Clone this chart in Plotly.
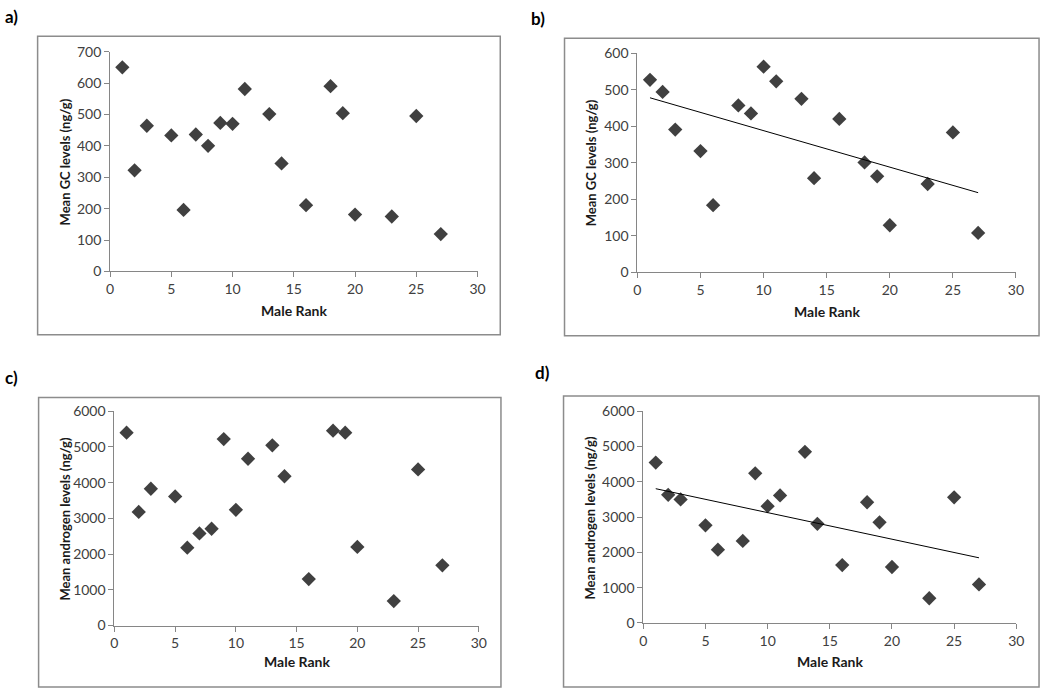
import numpy as np
import plotly.graph_objects as go

W, H = 1050, 696

# ---- data ----
rank_a = [1, 2, 3, 5, 6, 7, 8, 9, 10, 11, 13, 14, 16, 18, 19, 20, 23, 25, 27]
gc_a = [650, 322, 464, 433, 196, 436, 400, 473, 470, 581, 501, 344, 211, 590, 504, 181, 175, 495, 119]

rank_b = [1, 2, 3, 5, 6, 8, 9, 10, 11, 13, 14, 16, 18, 19, 20, 23, 25, 27]
gc_b = [527, 494, 391, 332, 184, 457, 435, 563, 523, 475, 258, 420, 301, 263, 129, 242, 383, 108]

rank_c = [1, 2, 3, 5, 6, 7, 8, 9, 10, 11, 13, 14, 16, 18, 19, 20, 23, 25, 27]
andro_c = [5400, 3180, 3830, 3615, 2180, 2580, 2710, 5220, 3240, 4670, 5045, 4180, 1300, 5455, 5400, 2200, 685, 4370, 1685]

rank_d = [1, 2, 3, 5, 6, 8, 9, 10, 11, 13, 14, 16, 18, 19, 20, 23, 25, 27]
andro_d = [4545, 3630, 3500, 2765, 2075, 2325, 4240, 3310, 3615, 4850, 2810, 1640, 3420, 2850, 1585, 700, 3560, 1090]

x_ticks = [0, 5, 10, 15, 20, 25, 30]
gc_a_ticks = [0, 100, 200, 300, 400, 500, 600, 700]
gc_b_ticks = [0, 100, 200, 300, 400, 500, 600]
andro_ticks = [0, 1000, 2000, 3000, 4000, 5000, 6000]

panel_labels = ["a)", "b)", "c)", "d)"]
y_titles = ["Mean GC levels (ng/g)", "Mean GC levels (ng/g)",
            "Mean androgen levels (ng/g)", "Mean androgen levels (ng/g)"]
x_title = "Male Rank"

FONT = "Lato, Calibri, Arial, sans-serif"
MARK = "#404040"
AXIS = "#868686"
TEXT = "#404040"


def px(x):
    return x / W


def py(y):
    return 1 - y / H


# plot areas in pixels (left, right, top, bottom)
areas = [
    (107.3, 479.0, 43.7, 269.0),
    (640.7, 1023.7, 45.3, 270.0),
    (111.7, 480.3, 412.3, 632.0),
    (646.7, 1024.0, 412.3, 629.3),
]
boxes = [
    (34, 502, 28, 334),
    (567, 1047, 30, 335),
    (35, 502.7, 398.3, 695),
    (566, 1047, 396.7, 695),
]
label_pos = [(8, 8), (540, 10), (8, 378), (545, 373)]
ytitle_pos = [(62, 157), (594, 158), (62, 523), (593, 522)]
xtitle_pos = [(293, 309), (833, 310), (296, 669), (836, 669)]

series = [(rank_a, gc_a, gc_a_ticks, False),
          (rank_b, gc_b, gc_b_ticks, True),
          (rank_c, andro_c, andro_ticks, False),
          (rank_d, andro_d, andro_ticks, True)]

fig = go.Figure()
layout = {}
annotations = []
shapes = []

for i, (xs, ys, yt, trend) in enumerate(series):
    n = i + 1
    xa = "x" if n == 1 else f"x{n}"
    ya = "y" if n == 1 else f"y{n}"
    fig.add_trace(go.Scatter(
        x=xs, y=ys, mode="markers", xaxis=xa, yaxis=ya,
        marker=dict(symbol="diamond", size=11, color=MARK,
                    line=dict(width=0)),
        showlegend=False, hoverinfo="x+y"))
    if trend:
        slope, icpt = np.polyfit(xs, ys, 1)
        tx = [min(xs), max(xs)]
        fig.add_trace(go.Scatter(
            x=tx, y=[slope * t + icpt for t in tx], mode="lines",
            xaxis=xa, yaxis=ya, line=dict(color="#000000", width=1),
            showlegend=False, hoverinfo="skip"))
    l, r, t, b = areas[i]
    axkey_x = "xaxis" if n == 1 else f"xaxis{n}"
    axkey_y = "yaxis" if n == 1 else f"yaxis{n}"
    layout[axkey_x] = dict(
        domain=[px(l), px(r)], anchor=ya, range=[0, 30],
        tickvals=x_ticks, showgrid=False, zeroline=False,
        showline=True, linecolor=AXIS, linewidth=1,
        ticks="outside", ticklen=5, tickcolor=AXIS,
        tickfont=dict(family=FONT, size=14, color=TEXT))
    layout[axkey_y] = dict(
        domain=[py(b), py(t)], anchor=xa, range=[0, yt[-1]],
        tickvals=yt, showgrid=False, zeroline=False,
        showline=True, linecolor=AXIS, linewidth=1,
        ticks="outside", ticklen=5, tickcolor=AXIS,
        tickfont=dict(family=FONT, size=14, color=TEXT))
    bl, br, bt, bb = boxes[i]
    shapes.append(dict(type="rect", xref="paper", yref="paper",
                       x0=px(bl), x1=px(br), y0=py(bb), y1=py(bt),
                       line=dict(color="#8c8c8c", width=1.5)))
    lx, ly = label_pos[i]
    annotations.append(dict(text="<b>" + panel_labels[i] + "</b>", xref="paper", yref="paper",
                            x=px(lx), y=py(ly), showarrow=False,
                            xanchor="center", yanchor="middle",
                            font=dict(family=FONT, size=17, color="#000000")))
    tx_, ty_ = ytitle_pos[i]
    annotations.append(dict(text="<b>" + y_titles[i] + "</b>", xref="paper", yref="paper",
                            x=px(tx_), y=py(ty_), showarrow=False, textangle=-90,
                            xanchor="center", yanchor="middle",
                            font=dict(family=FONT, size=13, color="#1a1a1a")))
    xx, xy = xtitle_pos[i]
    annotations.append(dict(text="<b>" + x_title + "</b>", xref="paper", yref="paper",
                            x=px(xx), y=py(xy), showarrow=False,
                            xanchor="center", yanchor="middle",
                            font=dict(family=FONT, size=14, color="#1a1a1a")))

fig.update_layout(
    width=W, height=H, margin=dict(l=0, r=0, t=0, b=0),
    paper_bgcolor="white", plot_bgcolor="white",
    annotations=annotations, shapes=shapes, **layout)

fig.write_html(
    "out.html",
    config={"displayModeBar": False},
    post_script="document.body.style.margin='0';document.body.style.overflow='hidden';",
)
